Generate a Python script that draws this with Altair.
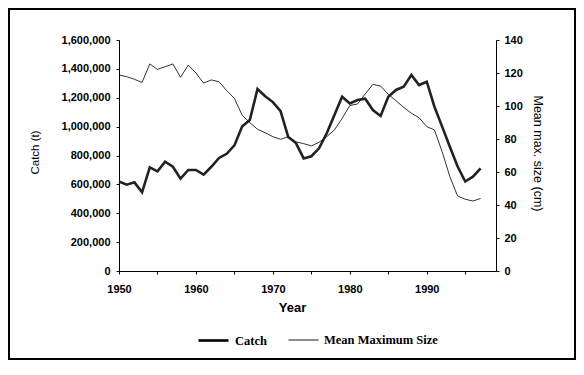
import altair as alt
import pandas as pd

years = list(range(1950, 1998))
catch_t = [620000, 598000, 614000, 545000, 718000, 690000, 757000, 722000, 640000, 700000,
           700000, 668000, 722000, 783000, 812000, 870000, 1000000, 1046000, 1260000, 1210000,
           1170000, 1108000, 928000, 886000, 780000, 795000, 850000, 954000, 1080000, 1207000,
           1160000, 1184000, 1193000, 1115000, 1074000, 1207000, 1254000, 1277000, 1358000, 1288000,
           1311000, 1138000, 1000000, 861000, 725000, 620000, 653000, 711000]
mean_max_size_cm = [118.8, 117.8, 116.2, 114.3, 125.5, 122.2, 123.8, 125.5, 117.4, 124.8,
                    120.0, 113.9, 115.8, 114.7, 109.3, 104.6, 94.5, 89.9, 85.9, 83.8,
                    81.4, 79.8, 81.4, 78.2, 77.2, 75.8, 78.0, 81.4, 85.5, 92.5,
                    100.3, 101.2, 107.3, 113.1, 112.1, 107.1, 103.2, 99.2, 95.6, 92.9,
                    87.5, 85.5, 72.3, 57.2, 45.5, 43.5, 42.4, 44.0]
series_names = ["Catch", "Mean Maximum Size"]
x_tick_values = list(range(1950, 1996, 5))
left_tick_values = list(range(0, 1600001, 200000))
right_tick_values = list(range(0, 141, 20))

df_catch = pd.DataFrame({"Year": years, "value": catch_t, "series": series_names[0]})
df_size = pd.DataFrame({"Year": years, "value": mean_max_size_cm, "series": series_names[1]})

FONT = "Liberation Sans"
stroke_scale = alt.Scale(domain=series_names, range=[2.6, 0.9])

x_enc = alt.X(
    "Year:Q",
    scale=alt.Scale(domain=[1950, 1999], nice=False, zero=False),
    axis=alt.Axis(
        values=x_tick_values, format="d",
        labelExpr="datum.value % 10 == 0 ? datum.label : ''",
        labelFlush=False,
        title="Year", titleX=173, titleY=36, titleBaseline="middle", titleAlign="center",
        titleFontSize=13, titleFontWeight="bold",
        grid=False, tickSize=3, labelPadding=9,
    ),
)

legend = alt.Legend(
    title=None, orient="none", direction="horizontal", legendX=78, legendY=284,
    symbolType="stroke", symbolSize=900, symbolStrokeColor="black",
    labelFont="Liberation Serif", labelFontWeight="bold", labelFontSize=12.5,
    labelColor="black", labelOffset=5, columnPadding=19, padding=0,
)

border = alt.Chart(pd.DataFrame({"frame": [0]})).mark_rect(
    filled=False, stroke="black", strokeWidth=2
).encode(x=alt.value(-110), x2=alt.value(456), y=alt.value(-31), y2=alt.value(319))

catch_line = alt.Chart(df_catch).mark_line(color="#222222").encode(
    x=x_enc,
    y=alt.Y(
        "value:Q",
        scale=alt.Scale(domain=[0, 1600000], nice=False),
        axis=alt.Axis(
            values=left_tick_values, format=",d", orient="left", labelFlush=False,
            title="Catch (t)", titleX=-84, titleY=112, titleAngle=270,
            titleBaseline="middle", titleAlign="center",
            titleFontSize=11.5, titleFontWeight="normal",
            grid=False, tickSize=3, labelPadding=6,
        ),
    ),
    strokeWidth=alt.StrokeWidth("series:N", scale=stroke_scale, legend=legend),
)

size_line = alt.Chart(df_size).mark_line(color="#1a1a1a").encode(
    x=x_enc,
    y=alt.Y(
        "value:Q",
        scale=alt.Scale(domain=[0, 140], nice=False),
        axis=alt.Axis(
            values=right_tick_values, format="d", orient="right", labelFlush=False,
            title="Mean max. size (cm)", titleX=41, titleY=113, titleAngle=90,
            titleBaseline="middle", titleAlign="center",
            titleFontSize=12.5, titleFontWeight="normal",
            grid=False, tickSize=3, labelPadding=5,
        ),
    ),
    strokeWidth=alt.StrokeWidth("series:N", scale=stroke_scale, legend=legend),
)

chart = alt.layer(border, catch_line, size_line).resolve_scale(
    y="independent"
).properties(
    width=377, height=231,
    autosize=alt.AutoSizeParams(type="none"),
    padding={"left": 111, "top": 32, "right": 80, "bottom": 89},
).configure_axis(
    labelFont=FONT, labelFontSize=11, labelFontWeight="bold", labelColor="black",
    titleFont=FONT, titleColor="black",
    domainColor="black", domainWidth=1, tickColor="black", tickWidth=1,
).configure_view(strokeWidth=0)

chart.save("out.html", embed_options={"renderer": "svg", "actions": False})
